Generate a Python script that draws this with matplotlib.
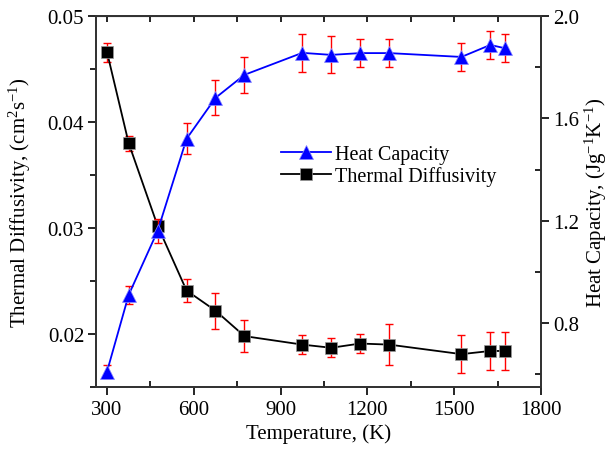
import matplotlib
matplotlib.use("Agg")
import matplotlib.pyplot as plt
from matplotlib.ticker import MultipleLocator

plt.rcParams['font.family'] = ['Liberation Serif', 'DejaVu Serif']
plt.rcParams['mathtext.fontset'] = 'custom'
plt.rcParams['mathtext.rm'] = 'Liberation Serif'
plt.rcParams['mathtext.it'] = 'Liberation Serif:italic'

temperature = [300, 375, 475, 575, 675, 775, 975, 1075, 1175, 1275, 1525, 1625, 1675]
diffusivity = [0.0466, 0.0380, 0.0302, 0.0241, 0.0222, 0.0198, 0.0190, 0.0187, 0.0191, 0.0190, 0.0181, 0.0184, 0.0184]
diffusivity_err = [0.0009, 0.0007, 0.0006, 0.0011, 0.0017, 0.0015, 0.0009, 0.0009, 0.0009, 0.0019, 0.0018, 0.0018, 0.0018]
heat_capacity = [0.61, 0.91, 1.16, 1.52, 1.68, 1.77, 1.856, 1.848, 1.855, 1.855, 1.84, 1.887, 1.874]
heat_capacity_err = [0.025, 0.036, 0.047, 0.06, 0.068, 0.07, 0.073, 0.072, 0.055, 0.055, 0.054, 0.055, 0.055]

fig = plt.figure(figsize=(6.11, 4.52), dpi=100)
ax = fig.add_axes([96/611, 1-388/452, (541-96)/611, (388-17)/452])
ax2 = ax.twinx()

fs = 15

# Thermal diffusivity (left axis)
ax.errorbar(temperature, diffusivity, yerr=diffusivity_err, fmt='none', ecolor='red',
            elinewidth=1.0, capsize=2.8, capthick=1.0, zorder=2)
l1, = ax.plot(temperature, diffusivity, color='black', lw=1.3, marker='s', markersize=8,
              markerfacecolor='black', markeredgecolor='#999999', markeredgewidth=0.5, zorder=3)

# Heat capacity (right axis)
ax2.errorbar(temperature, heat_capacity, yerr=heat_capacity_err, fmt='none', ecolor='red',
             elinewidth=1.0, capsize=2.8, capthick=1.0, zorder=2)
l2, = ax2.plot(temperature, heat_capacity, color='blue', lw=1.3, marker='^', markersize=10.5,
               markerfacecolor='blue', markeredgecolor='#8888ff', markeredgewidth=0.5, zorder=3)

ax.set_xlim(262, 1800)
ax.set_ylim(0.015, 0.05)
ax2.set_ylim(0.55, 2.0)

ax.xaxis.set_minor_locator(MultipleLocator(150))
ax.yaxis.set_minor_locator(MultipleLocator(0.005))
ax2.yaxis.set_minor_locator(MultipleLocator(0.2))
ax.set_xticks([300, 600, 900, 1200, 1500, 1800])
ax2.set_yticks([0.8, 1.2, 1.6, 2.0])
ax.set_yticks([0.02, 0.03, 0.04, 0.05])
ax.set_yticklabels(['0.02', '0.03', '0.04', '0.05'])
ax2.set_yticklabels(['0.8', '1.2', '1.6', '2.0'])

for a in (ax, ax2):
    for s in a.spines.values():
        s.set_linewidth(1.3)
        s.set_color('#333333')

ax.tick_params(axis='x', which='major', direction='out', length=5.5, width=1.2, labelsize=fs, pad=4)
ax.tick_params(axis='x', which='minor', direction='in', length=4, width=1.2)
ax.tick_params(axis='y', which='major', direction='out', length=5.5, width=1.2, labelsize=fs, pad=3)
ax.tick_params(axis='y', which='minor', direction='out', length=4, width=1.2)
ax2.tick_params(axis='y', which='major', direction='out', length=5.5, width=1.2, labelsize=fs, pad=3)
ax2.tick_params(axis='y', which='minor', direction='in', length=4, width=1.2)

top = ax.secondary_xaxis('top')
top.xaxis.set_minor_locator(MultipleLocator(150))
top.set_xticks([300, 600, 900, 1200, 1500, 1800])
top.set_xticklabels([])
top.tick_params(which='both', direction='in', length=4.5, width=1.2, labeltop=False)

ax.set_xlabel('Temperature, (K)', fontsize=fs, labelpad=3)
ax.set_ylabel(r'Thermal Diffusivity, (cm$^{2}$s$^{-1}$)', fontsize=fs)
ax2.set_ylabel(r'Heat Capacity, (Jg$^{-1}$K$^{-1}$)', fontsize=fs, rotation=90)
ax.yaxis.set_label_coords((33-96)/445, 0.5)
ax2.yaxis.set_label_coords((583-96)/445, 0.5)

ax2.patch.set_visible(False)

leg = ax2.legend([l2, l1], ['Heat Capacity', 'Thermal Diffusivity'], loc='upper left',
                 bbox_to_anchor=((273-96)/445, 1-(138-17)/371), frameon=False, fontsize=14.5,
                 handlelength=2.5, handletextpad=0.2, labelspacing=0.12, borderaxespad=0)

fig.savefig('out.png', dpi=100)
